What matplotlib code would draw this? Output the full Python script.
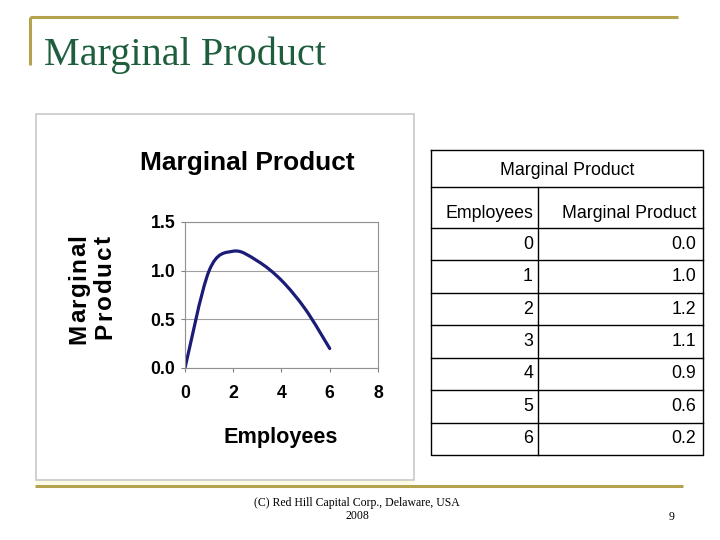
import numpy as np
import matplotlib.pyplot as plt
from matplotlib import font_manager
from matplotlib.font_manager import FontProperties
from matplotlib.ft2font import FT2Font
from matplotlib.path import Path
from matplotlib.patches import PathPatch, Rectangle

# data
employees = [0, 1, 2, 3, 4, 5, 6]
marginal_product = [0.0, 1.0, 1.2, 1.1, 0.9, 0.6, 0.2]
x_ticks = [0, 2, 4, 6, 8]
y_ticks = [0.0, 0.5, 1.0, 1.5]

slide_title = "Marginal Product"
chart_title = "Marginal Product"
y_label_lines = ["Marginal", "Product"]
x_label = "Employees"
table_title = "Marginal Product"
col_headers = ["Employees", "Marginal Product"]
footer_lines = ["(C) Red Hill Capital Corp., Delaware, USA", "2008"]
page_no = "9"

W, H = 720, 540
DPI = 100
gold = "#b5a24c"
green = "#1e5e3c"
navy = "#1b1b78"
sans = ["Liberation Sans", "DejaVu Sans"]
serif = ["Liberation Serif", "DejaVu Serif"]

# the pasted Excel picture uses a condensed bold face
try:
    font_manager.findfont("Liberation Sans Narrow", fallback_to_default=False)
    narrow = ["Liberation Sans Narrow", "Liberation Sans", "DejaVu Sans"]
    nscale = 1.0
except ValueError:
    narrow = sans
    nscale = 0.82


def smooth_path(xs, ys):
    """Excel-like smoothed line: cubic Bezier through every data point."""
    pts = np.column_stack([xs, ys]).astype(float)
    n = len(pts)
    verts = [pts[0]]
    codes = [Path.MOVETO]
    for i in range(n - 1):
        p0 = pts[max(i - 1, 0)]
        p1 = pts[i]
        p2 = pts[i + 1]
        p3 = pts[min(i + 2, n - 1)]
        c1 = p1 + (p2 - p0) / 6.0
        c2 = p2 - (p3 - p1) / 6.0
        verts += [c1, c2, p2]
        codes += [Path.CURVE4] * 3
    return Path(verts, codes)


def spaced_vertical(ax, x, yc, s, size, spacing):
    """Rotated bold text with extra letter spacing (pixel coords, y down)."""
    prop = FontProperties(family=sans, weight="bold", size=size)
    font = FT2Font(font_manager.findfont(prop))
    font.set_size(size, DPI)
    adv = []
    for c in s:
        g = font.load_char(ord(c))
        adv.append(g.linearHoriAdvance / 65536)
    total = sum(adv) + spacing * (len(s) - 1)
    y = yc + total / 2
    for c, a in zip(s, adv):
        ax.text(x, y, c, fontproperties=prop, rotation=90,
                ha="left", va="baseline", rotation_mode="anchor")
        y -= a + spacing


fig = plt.figure(figsize=(W / DPI, H / DPI), dpi=DPI)

# background layer in pixel coordinates (slide decoration + table)
bg = fig.add_axes([0, 0, 1, 1], zorder=0)
bg.set_xlim(0, W)
bg.set_ylim(H, 0)
bg.axis("off")

# slide frame lines
bg.plot([30, 678], [17, 17], color=gold, lw=2.2, solid_capstyle="butt")
bg.plot([30, 30], [17, 65], color=gold, lw=2.2, solid_capstyle="butt")
bg.plot([35, 683], [486, 486], color=gold, lw=2.2, solid_capstyle="butt")
bg.text(44, 65, slide_title, fontsize=29, color=green, family=serif,
        va="baseline", ha="left")

# chart picture box
bg.add_patch(Rectangle((36, 114), 378, 366, fill=False, ec="#c8c8c8", lw=1.2))
bg.add_patch(Rectangle((36, 481), 378, 3, color="#fdfbe0", lw=0))
bg.text(247, 163, chart_title, fontsize=23 * nscale, fontweight="bold",
        family=narrow, ha="center", va="center")
# rotated two-line axis title, x is the baseline of each column
spaced_vertical(bg, 85, 289, y_label_lines[0], 17.5, 1.5)
spaced_vertical(bg, 111, 287, y_label_lines[1], 17.5, 1.9)
bg.text(281, 438, x_label, fontsize=19 * nscale, fontweight="bold",
        family=narrow, ha="center", va="center")

# footer
bg.text(357, 503, footer_lines[0], fontsize=8.5, family=serif,
        ha="center", va="center")
bg.text(357, 516, footer_lines[1], fontsize=8.5, family=serif,
        ha="center", va="center")
bg.text(672, 517, page_no, fontsize=8.5, family=serif, ha="center", va="center")

# table
tl, tr, tdiv = 431, 703, 538
t_top, t_title, t_head = 150, 187, 228
row_h = (455 - t_head) / len(employees)
t_bot = t_head + row_h * len(employees)
lk = dict(color="black", lw=1.0)
bg.plot([tl, tr, tr, tl, tl], [t_top, t_top, t_bot, t_bot, t_top], **lk)
bg.plot([tl, tr], [t_title, t_title], **lk)
bg.plot([tdiv, tdiv], [t_title, t_bot], **lk)
for i in range(len(employees)):
    yy = t_head + i * row_h
    bg.plot([tl, tr], [yy, yy], **lk)
tfs = 12.8
bg.text((tl + tr) / 2, (t_top + t_title) / 2 + 2, table_title, fontsize=tfs,
        family=sans, ha="center", va="center")
bg.text(tdiv - 5, (t_title + t_head) / 2 + 6, col_headers[0], fontsize=tfs,
        family=sans, ha="right", va="center")
bg.text(tr - 7, (t_title + t_head) / 2 + 6, col_headers[1], fontsize=tfs,
        family=sans, ha="right", va="center")
for i, (e, m) in enumerate(zip(employees, marginal_product)):
    yc = t_head + (i + 0.5) * row_h
    bg.text(tdiv - 5, yc, str(e), fontsize=tfs, family=sans,
            ha="right", va="center")
    bg.text(tr - 7, yc, f"{m:.1f}", fontsize=tfs, family=sans,
            ha="right", va="center")

# the chart itself
ax = fig.add_axes([185 / W, 1 - 368 / H, (378 - 185) / W, (368 - 222) / H],
                  zorder=1)
ax.set_xlim(0, 8)
ax.set_ylim(0, 1.5)
ax.set_xticks(x_ticks)
ax.set_yticks(y_ticks)
ax.set_xticklabels([str(t) for t in x_ticks])
ax.set_yticklabels([f"{t:.1f}" for t in y_ticks])
for lab in ax.get_xticklabels() + ax.get_yticklabels():
    lab.set_fontweight("bold")
    lab.set_fontfamily(narrow)
    lab.set_fontsize(15.5 * nscale)
ax.tick_params(axis="both", length=3, color="#808080", width=0.8)
ax.tick_params(axis="x", pad=9)
ax.tick_params(axis="y", pad=4)
ax.grid(axis="y", color="#a0a0a0", lw=0.8)
ax.set_axisbelow(True)
for s in ax.spines.values():
    s.set_color("#909090")
    s.set_linewidth(0.8)
ax.patch.set_alpha(0)

ax.add_patch(PathPatch(smooth_path(employees, marginal_product), fill=False,
                       ec=navy, lw=2.3, capstyle="round", joinstyle="round"))

fig.savefig("out.png", dpi=DPI)
